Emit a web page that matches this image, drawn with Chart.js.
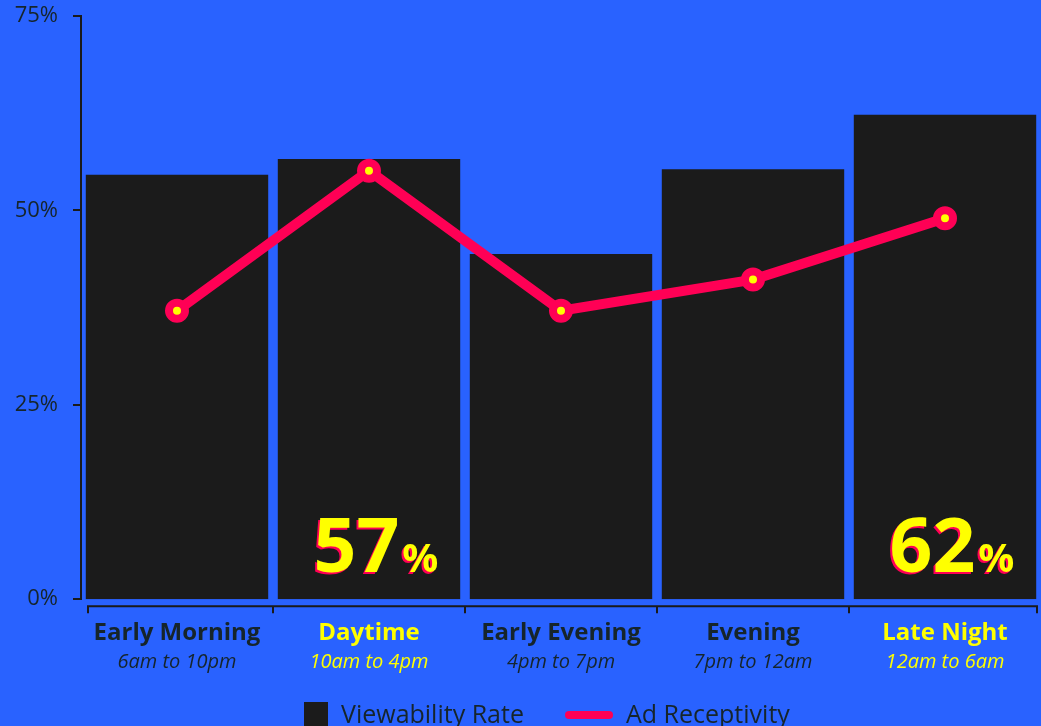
<!DOCTYPE html>
<html>
<head>
<meta charset="utf-8">
<script src="https://cdn.jsdelivr.net/npm/chart.js@4.4.1/dist/chart.umd.min.js"></script>
<style>
  html, body { margin: 0; padding: 0; background: #2962FF; overflow: hidden; }
  #wrap { position: relative; width: 1041px; height: 726px; }
  #legend { position: absolute; top: 697px; left: 0; width: 1041px; height: 40px; font-family: "Open Sans", sans-serif; font-size: 25px; color: #16252b; }
  .li { position: absolute; top: 0; white-space: nowrap; line-height: 32px; }
  .sw-box { position: absolute; top: 5px; width: 24px; height: 24px; background: #1b1b1b; }
  .sw-line { position: absolute; top: 14px; width: 48px; height: 8px; border-radius: 4px; background: #FF0055; }
</style>
</head>
<body>
<div id="wrap">
  <canvas id="c" width="1041" height="726"></canvas>
  <div id="legend">
    <div class="sw-box" style="left:304px"></div>
    <div class="li" style="left:341px">Viewability Rate</div>
    <div class="sw-line" style="left:565px"></div>
    <div class="li" style="left:626px">Ad Receptivity</div>
  </div>
</div>
<script>
const categories = ["Early Morning", "Daytime", "Early Evening", "Evening", "Late Night"];
const timeRanges = ["6am to 10pm", "10am to 4pm", "4pm to 7pm", "7pm to 12am", "12am to 6am"];
const viewabilityRate = [54.6, 56.6, 44.4, 55.3, 62.3];
const adReceptivity = [37.1, 55.1, 37.1, 41.1, 49.0];
const highlighted = [false, true, false, false, true];
const yTicks = [0, 25, 50, 75];

const DARK = "#16252b";
const YELLOW = "#FFFF00";
const PINK = "#FF0055";
const AXIS = "#1a1a1a";

const fontFamily = "'Open Sans', sans-serif";

const axesPlugin = {
  id: "axesDecor",
  afterDraw(chart) {
    const ctx = chart.ctx;
    const xs = chart.scales.x;
    const ys = chart.scales.y;
    const area = chart.chartArea;
    const n = categories.length;
    const half = (xs.getPixelForValue(1) - xs.getPixelForValue(0)) / 2;
    ctx.save();
    ctx.strokeStyle = AXIS;
    ctx.lineWidth = 2;
    ctx.beginPath();
    yTicks.forEach(v => {
      const py = Math.round(ys.getPixelForValue(v));
      ctx.moveTo(area.left - 8, py);
      ctx.lineTo(area.left, py);
    });
    const y = area.bottom + 7;
    const left = xs.getPixelForValue(0) - half + 7;
    const right = xs.getPixelForValue(n - 1) + half - 4;
    ctx.moveTo(left, y);
    ctx.lineTo(right, y);
    const tickXs = [left];
    for (let i = 1; i < n; i++) tickXs.push((xs.getPixelForValue(i - 1) + xs.getPixelForValue(i)) / 2);
    tickXs.push(right);
    tickXs.forEach(tx => { ctx.moveTo(tx, y - 1); ctx.lineTo(tx, y + 7); });
    ctx.stroke();
    ctx.font = "italic 20px " + fontFamily;
    ctx.textAlign = "center";
    ctx.textBaseline = "middle";
    timeRanges.forEach((t, i) => {
      ctx.fillStyle = highlighted[i] ? YELLOW : DARK;
      ctx.fillText(t, xs.getPixelForValue(i), area.bottom + 63);
    });
    ctx.restore();
  }
};

const bigLabelPlugin = {
  id: "bigLabel",
  afterDatasetsDraw(chart) {
    const ctx = chart.ctx;
    const meta = chart.getDatasetMeta(1);
    const area = chart.chartArea;
    ctx.save();
    meta.data.forEach((bar, i) => {
      if (!highlighted[i]) return;
      const num = String(Math.round(viewabilityRate[i]));
      const bigFont = "bold 75px " + fontFamily;
      const smallFont = "bold 40px " + fontFamily;
      ctx.font = bigFont;
      const wBig = ctx.measureText(num).width;
      ctx.font = smallFont;
      const wSmall = ctx.measureText("%").width;
      const total = wBig + 3 + wSmall;
      const x0 = bar.x - total / 2 + 7;
      const base = area.bottom - 27;
      ctx.textBaseline = "alphabetic";
      ctx.textAlign = "left";
      ctx.fillStyle = PINK;
      ctx.font = bigFont;
      ctx.fillText(num, x0 - 2, base + 2);
      ctx.font = smallFont;
      ctx.fillText("%", x0 + wBig + 3 - 2, base + 2);
      ctx.fillStyle = YELLOW;
      ctx.font = bigFont;
      ctx.fillText(num, x0, base);
      ctx.font = smallFont;
      ctx.fillText("%", x0 + wBig + 3, base);
    });
    ctx.restore();
  }
};

new Chart(document.getElementById("c"), {
  type: "bar",
  data: {
    labels: categories,
    datasets: [
      {
        type: "line",
        label: "Ad Receptivity",
        data: adReceptivity,
        borderColor: PINK,
        borderWidth: 10,
        backgroundColor: YELLOW,
        pointBackgroundColor: YELLOW,
        pointBorderColor: PINK,
        pointBorderWidth: 8,
        pointRadius: 8,
        pointHoverRadius: 8,
        tension: 0,
        order: 0
      },
      {
        type: "bar",
        label: "Viewability Rate",
        data: viewabilityRate,
        backgroundColor: "#1b1b1b",
        borderWidth: 0,
        categoryPercentage: 1.0,
        barPercentage: 0.95,
        order: 1
      }
    ]
  },
  options: {
    responsive: false,
    animation: false,
    devicePixelRatio: 1,
    layout: { autoPadding: false, padding: { left: 10, right: 0, top: 16, bottom: 78 } },
    plugins: {
      legend: { display: false },
      tooltip: { enabled: false }
    },
    scales: {
      x: {
        type: "category",
        offset: true,
        afterFit: (s) => { s.paddingLeft = 0; s.paddingRight = 0; },
        grid: { display: false, drawTicks: true, tickLength: 20 },
        border: { display: false },
        ticks: {
          padding: 0,
          autoSkip: false,
          maxRotation: 0,
          font: { family: fontFamily, size: 24, weight: "bold" },
          color: (c) => highlighted[c.index] ? YELLOW : DARK
        }
      },
      y: {
        min: 0,
        max: 75,
        afterBuildTicks: (scale) => { scale.ticks = yTicks.map(v => ({ value: v })); },
        afterFit: (scale) => { scale.width = 71; },
        grid: { display: false, drawTicks: true, tickLength: 23 },
        border: { display: true, color: AXIS, width: 2 },
        ticks: {
          padding: 0,
          font: { family: fontFamily, size: 22 },
          color: DARK,
          callback: (v) => v + "%"
        }
      }
    }
  },
  plugins: [axesPlugin, bigLabelPlugin]
});
</script>
</body>
</html>
